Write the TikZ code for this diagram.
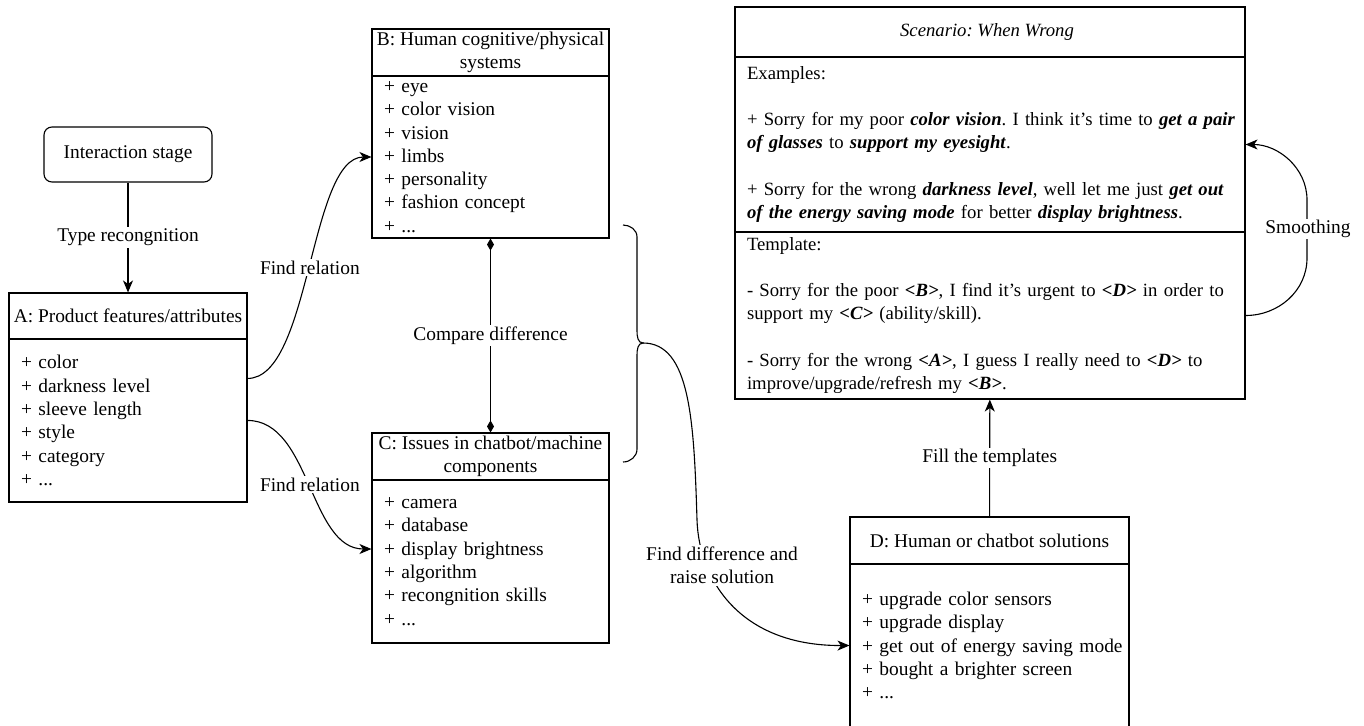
\documentclass[tikz,border=0pt]{standalone}
\usepackage{fontspec}
\setmainfont{LiberationSerif}[Extension=.ttf,UprightFont=*-Regular,BoldFont=*-Bold,ItalicFont=*-Italic,BoldItalicFont=*-BoldItalic]
\usetikzlibrary{arrows.meta}
\frenchspacing
\newcommand\myfs{\fontsize{19.4}{23.3}\selectfont}
\newcommand\myfss{\fontsize{18.7}{23.3}\selectfont}
\newcommand\bix[1]{\textbf{\textit{#1}}}
\begin{document}
\begin{tikzpicture}[x=1pt,y=-1pt,line width=1.1pt,font=\myfs,
  box/.style={draw,rectangle,inner sep=0pt},
  listbox/.style={box,align=left,inner xsep=12pt},
  lbl/.style={fill=white,inner sep=1.5pt},
  arr/.style={-{Stealth[length=12pt,width=10pt,inset=3.5pt]}},
  dia/.style={{Diamond[length=12pt,width=7pt]}-{Diamond[length=12pt,width=7pt]}}]
\path[use as bounding box] (0,0) rectangle (1364,725);
\clip (0,0) rectangle (1364,725);

% Interaction stage
\node[box,rounded corners=8pt,minimum width=168pt,minimum height=55pt] (IS) at (128,154.5) {Interaction stage};

% A
\node[box,minimum width=238pt,minimum height=46pt] (Ah) at (128,316) {A: Product features/attributes};
\node[listbox,minimum width=238pt,minimum height=163pt,text width=214pt] (Ab) at (128,420.5)
  {+ color\\+ darkness level\\+ sleeve length\\+ style\\+ category\\+ ...};

% B
\node[box,minimum width=237pt,minimum height=47pt,align=center] (Bh) at (490.5,52.5) {B: Human cognitive/physical\\systems};
\node[listbox,minimum width=237pt,minimum height=162pt,text width=213pt] (Bb) at (490.5,157)
  {+ eye\\+ color vision\\+ vision\\+ limbs\\+ personality\\+ fashion concept\\+ ...};

% C
\node[box,minimum width=237pt,minimum height=47pt,align=center] (Ch) at (490.5,456.5) {C: Issues in chatbot/machine\\components};
\node[listbox,minimum width=237pt,minimum height=163pt,text width=213pt] (Cb) at (490.5,561.5)
  {+ camera\\+ database\\+ display brightness\\+ algorithm\\+ recongnition skills\\+ ...};

% D
\node[box,minimum width=279pt,minimum height=47pt] (Dh) at (989.5,540.5) {D: Human or chatbot solutions};
\node[listbox,minimum width=279pt,minimum height=163pt,text width=255pt] (Db) at (989.5,645.5)
  {+ upgrade color sensors\\+ upgrade display\\\mbox{+ get out of energy saving mode}\\+ bought a brighter screen\\+ ...};

% Scenario
\node[box,minimum width=510pt,minimum height=50pt,font=\myfss\itshape] (Sh) at (990,32) {Scenario: When Wrong\hspace*{6pt}};
\node[listbox,minimum width=510pt,minimum height=175pt,text width=486pt,font=\myfss] (Sex) at (990,144.5)
  {\mbox{Examples:}\\[23.3pt]
   \mbox{+ Sorry for my poor \bix{color vision}. I think it’s time to \bix{get a pair}}\\
   \mbox{\bix{of glasses} to \bix{support my eyesight}.}\\[23.3pt]
   \mbox{+ Sorry for the wrong \bix{darkness level}, well let me just \bix{get out}}\\
   \mbox{\bix{of the energy saving mode} for better \bix{display brightness}.}};
\node[listbox,minimum width=510pt,minimum height=167pt,text width=486pt,font=\myfss] (Stemp) at (990,315.5)
  {\mbox{Template:}\\[23.3pt]
   \mbox{- Sorry for the poor \bix{<B>}, I find it’s urgent to \bix{<D>} in order to}\\
   \mbox{support my \bix{<C>} (ability/skill).}\\[23.3pt]
   \mbox{- Sorry for the wrong \bix{<A>}, I guess I really need to \bix{<D>} to}\\
   \mbox{improve/upgrade/refresh my \bix{<B>}.}};

% connectors
\draw[arr] (IS) -- node[lbl]{Type recongnition} (Ah);
\draw[arr] ([yshift=-40pt]Ab.north east) .. controls +(63,0) and +(-62,0) .. (Bb.west)
  node[lbl,pos=0.5]{Find relation};
\draw[arr] ([yshift=-82pt]Ab.north east) .. controls +(63,0) and +(-62,0) .. ([yshift=12.5pt]Cb.west)
  node[lbl,pos=0.5]{Find relation};
\draw[dia] (Bb) -- node[lbl]{Compare difference} (Ch);

% brace
\draw (623,225) to[out=0,in=90] (637,237) -- (637,331) to[out=-90,in=180] (643,343) coordinate (bt)
  to[out=180,in=90] (637,355) -- (637,449) to[out=-90,in=0] (623,462);

\draw[arr] (bt) .. controls (690,343) and (694,420) .. (697,520) .. controls (699,580) and (740,646) .. (Db.west);
\node[lbl,align=center] (lfd) at (722,565.5) {Find difference and\\raise solution};

\draw[arr] (Dh) -- node[lbl]{Fill the templates} (Stemp);

\draw[arr] (Stemp.east) to[out=0,in=-90] (1307,258) -- (1307,200) to[out=90,in=0] (Sex.east);
\node[lbl] (lsm) at (1308,229) {Smoothing};
\end{tikzpicture}
\end{document}
